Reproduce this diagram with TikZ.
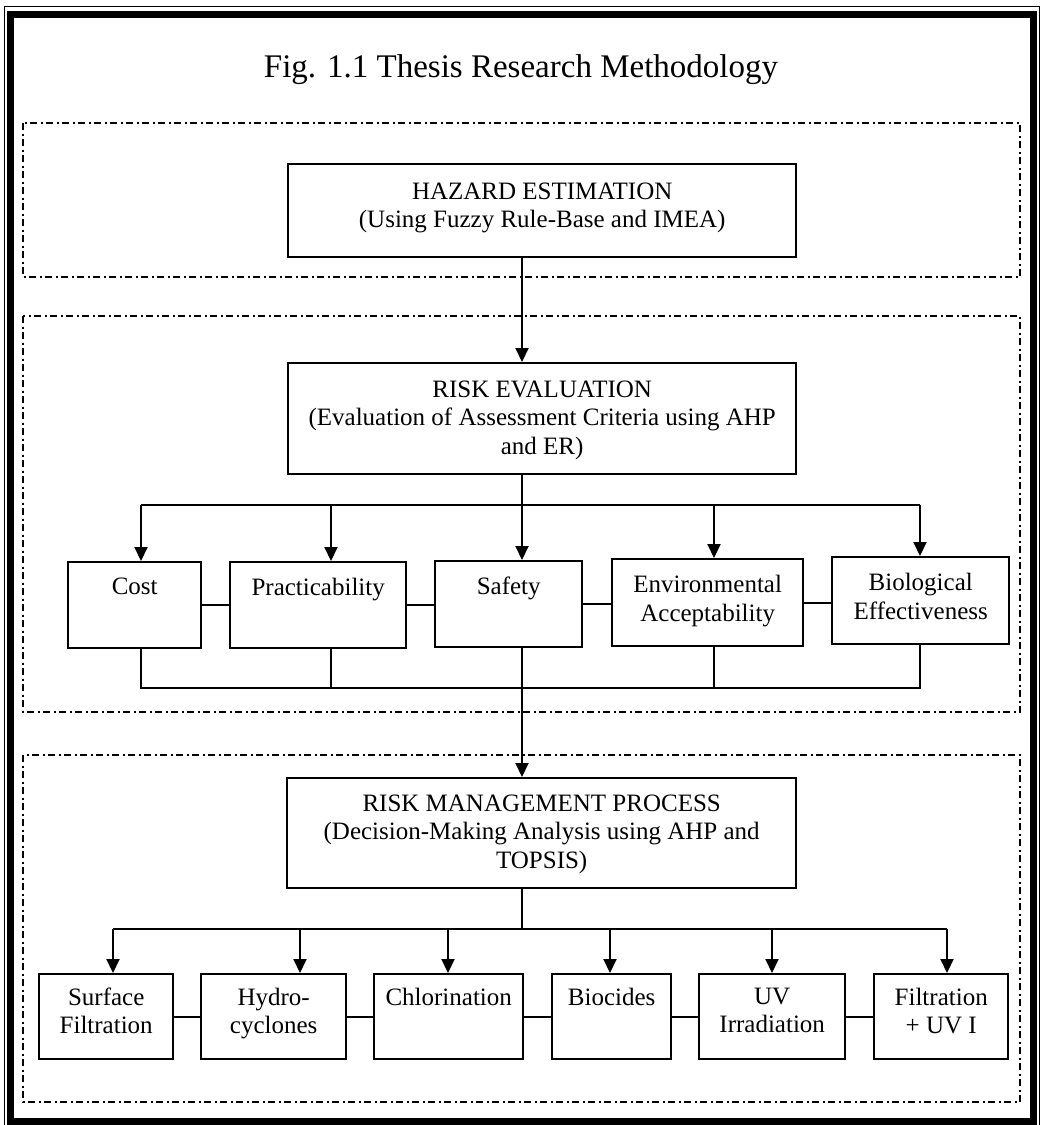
\documentclass[tikz,border=0pt]{standalone}
\usepackage{fontspec}
\setmainfont{Liberation Serif}
\usetikzlibrary{arrows.meta}
\newcommand\btxt[4]{\parbox[t][#2][t]{#1}{\vspace*{#3}\centering #4\par}}
\tikzset{
  stepbox/.style={draw, line width=2.4pt, inner sep=0pt, anchor=north west,
    font=\fontsize{25}{28.5}\selectfont},
  link/.style={line width=2pt},
  arr/.style={line width=2pt, -{Triangle[length=14pt,width=13pt]}},
  groupbox/.style={line width=1.8pt, dash pattern=on 7pt off 3.5pt on 2pt off 3.5pt},
}
\begin{document}
\begin{tikzpicture}[x=1pt,y=-1pt]
\useasboundingbox (0,0) rectangle (1043,1125);
% outer frame
\draw[line width=7pt] (10.5,14) rectangle (1033,1121.5);
\draw[line width=1pt] (4,6) rectangle (1039,1130);
% title
\node[font=\fontsize{33}{38}\selectfont, anchor=base] (title) at (521,77) {Fig. 1.1 Thesis Research Methodology};
% group frames
\draw[groupbox] (23,123) rectangle (1020,277);
\draw[groupbox] (23,316) rectangle (1020,712);
\draw[groupbox] (23,755) rectangle (1020,1102);
% main boxes
\node[stepbox] (haz) at (287,163) {\btxt{508pt}{93pt}{18.5pt}{HAZARD ESTIMATION\\(Using Fuzzy Rule-Base and IMEA)}};
\node[stepbox] (re) at (287,362) {\btxt{508pt}{111pt}{17.5pt}{RISK EVALUATION\\(Evaluation of Assessment Criteria using AHP\\and ER)}};
\node[stepbox] (rm) at (286,777) {\btxt{509pt}{110pt}{16.5pt}{RISK MANAGEMENT PROCESS\\(Decision-Making Analysis using AHP and\\TOPSIS)}};
% criteria
\node[stepbox] (cost) at (67,561) {\btxt{133pt}{86pt}{16pt}{Cost}};
\node[stepbox] (prac) at (229,561) {\btxt{176pt}{86pt}{16pt}{Practicability}};
\node[stepbox] (safe) at (434,560) {\btxt{147pt}{86pt}{16pt}{Safety}};
\node[stepbox] (env) at (611,558) {\btxt{191pt}{87pt}{16pt}{Environmental\\Acceptability}};
\node[stepbox] (bio) at (831,556) {\btxt{177pt}{87pt}{16pt}{Biological\\Effectiveness}};
% alternatives
\node[stepbox] (sf) at (38,973) {\btxt{134pt}{85pt}{13.5pt}{Surface\\Filtration}};
\node[stepbox] (hc) at (200,973) {\btxt{145pt}{85pt}{13.5pt}{Hydro-\\cyclones}};
\node[stepbox] (cl) at (373,973) {\btxt{149pt}{85pt}{13.5pt}{Chlorination}};
\node[stepbox] (bc) at (551,973) {\btxt{119pt}{85pt}{13.5pt}{Biocides}};
\node[stepbox] (uv) at (698,973) {\btxt{146pt}{85pt}{13.5pt}{UV\\Irradiation}};
\node[stepbox] (fu) at (873,973) {\btxt{134pt}{85pt}{13.5pt}{Filtration\\+ UV I}};
% junction coordinates
\coordinate (t0) at (522,505);
\coordinate (t1) at (141,505);
\coordinate (t2) at (331,505);
\coordinate (t4) at (714,505);
\coordinate (t5) at (920,505);
\coordinate (b1) at (141,688);
\coordinate (b2) at (331,688);
\coordinate (b4) at (714,688);
\coordinate (b5) at (920,688);
\coordinate (m0) at (522,929);
\coordinate (m1) at (113,929);
\coordinate (m2) at (300,929);
\coordinate (m3) at (448,929);
\coordinate (m4) at (610,929);
\coordinate (m5) at (772,929);
\coordinate (m6) at (947,929);
% hazard -> risk evaluation
\draw[arr] (haz.south -| t0) -- (re.north -| t0);
% risk evaluation -> criteria
\draw[link] (re.south -| t0) -- (t0);
\draw[link] (t1) -- (t5);
\draw[arr] (t1) -- (t1 |- cost.north);
\draw[arr] (t2) -- (t2 |- prac.north);
\draw[arr] (t0) -- (t0 |- safe.north);
\draw[arr] (t4) -- (t4 |- env.north);
\draw[arr] (t5) -- (t5 |- bio.north);
% criteria side links
\draw[link] (cost.east) -- (cost.east -| prac.west);
\draw[link] (prac.east) -- (prac.east -| safe.west);
\draw[link] (safe.east) -- (safe.east -| env.west);
\draw[link] (env.east) -- (env.east -| bio.west);
% criteria lower bus
\draw[link] (b1 |- cost.south) -- (b1) -- (b5) -- (b5 |- bio.south);
\draw[link] (b2 |- prac.south) -- (b2);
\draw[link] (b4 |- env.south) -- (b4);
% safety -> risk management
\draw[arr] (t0 |- safe.south) -- (t0 |- rm.north);
% risk management -> alternatives
\draw[link] (rm.south -| m0) -- (m0);
\draw[link] (m1) -- (m6);
\draw[arr] (m1) -- (m1 |- sf.north);
\draw[arr] (m2) -- (m2 |- hc.north);
\draw[arr] (m3) -- (m3 |- cl.north);
\draw[arr] (m4) -- (m4 |- bc.north);
\draw[arr] (m5) -- (m5 |- uv.north);
\draw[arr] (m6) -- (m6 |- fu.north);
% alternatives side links
\draw[link] (sf.east) -- (sf.east -| hc.west);
\draw[link] (hc.east) -- (hc.east -| cl.west);
\draw[link] (cl.east) -- (cl.east -| bc.west);
\draw[link] (bc.east) -- (bc.east -| uv.west);
\draw[link] (uv.east) -- (uv.east -| fu.west);
\end{tikzpicture}
\end{document}
